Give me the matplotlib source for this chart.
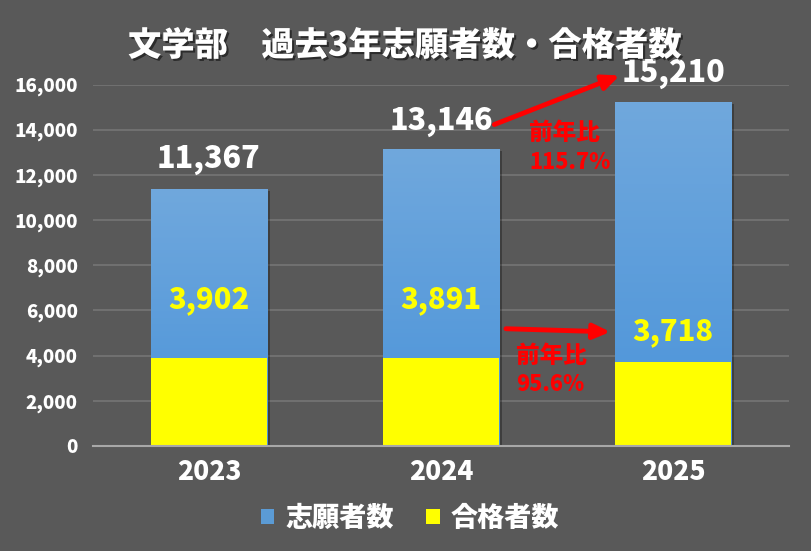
import numpy as np
import matplotlib
matplotlib.use('Agg')
import matplotlib.pyplot as plt
import matplotlib.patheffects as pe
from matplotlib.patches import Rectangle
from matplotlib.colors import LinearSegmentedColormap

plt.rcParams['font.family'] = ['Noto Sans CJK JP', 'DejaVu Sans']

years = ['2023', '2024', '2025']
applicants = [11367, 13146, 15210]
passers = [3902, 3891, 3718]
yticks = [0, 2000, 4000, 6000, 8000, 10000, 12000, 14000, 16000]
ratio_app = '115.7%'
ratio_pass = '95.6%'

bg = '#595959'
blue_cmap = LinearSegmentedColormap.from_list('b', ['#4a93d9', '#70a8dd'])
yellow = '#ffff00'
heavy = 'black'

fig = plt.figure(figsize=(8.12, 5.51), dpi=100, facecolor=bg)
ax = fig.add_axes([0.1145, 0.1906, 0.8572, 0.656])
ax.set_facecolor(bg)

x = np.arange(len(years))
w = 0.5

grad = np.linspace(0, 1, 256).reshape(-1, 1)
for i in range(len(years)):
    # blue bar with vertical gradient + soft shadow
    sh = Rectangle((x[i] - w / 2, 0), w, applicants[i], facecolor='#4a93d9', edgecolor='none',
                   zorder=1.9, path_effects=[pe.SimplePatchShadow(offset=(2.5, -1.5), shadow_rgbFace='black', alpha=0.3),
                                             pe.Normal()])
    ax.add_patch(sh)
    r = Rectangle((x[i] - w / 2, 0), w, applicants[i], facecolor='none', edgecolor='none', zorder=2)
    ax.add_patch(r)
    im = ax.imshow(grad, extent=[x[i] - w / 2, x[i] + w / 2, 0, applicants[i]], origin='lower',
                   cmap=blue_cmap, aspect='auto', zorder=2)
    im.set_clip_path(r)
    ax.bar(x[i], passers[i], width=w, color=yellow, zorder=3)

ax.set_xlim(-0.5, 2.5)
ax.set_ylim(0, 16000)
ax.set_yticks(yticks)
ax.set_yticklabels([f'{v:,}' for v in yticks])
ax.set_xticks(x)
ax.set_xticklabels(years)
ax.yaxis.grid(True, color='#707070', linewidth=1.5, zorder=0)
ax.set_axisbelow(True)
for s in ['top', 'right', 'left']:
    ax.spines[s].set_visible(False)
ax.spines['bottom'].set_color('#a8a8a8')
ax.spines['bottom'].set_linewidth(1.5)
ax.spines['bottom'].set_zorder(4)
ax.tick_params(axis='both', length=0, colors='white')
for lab in ax.get_yticklabels():
    lab.set_fontsize(13.5)
    lab.set_fontweight(heavy)
for lab in ax.get_xticklabels():
    lab.set_fontsize(19)
    lab.set_fontweight(heavy)
ax.tick_params(axis='y', pad=11)
ax.tick_params(axis='x', pad=8)

# value labels (applicants above the bars, passers inside)
app_label_y = [12680, 14360, 16480]
for i in range(len(years)):
    ax.text(x[i], app_label_y[i], f'{applicants[i]:,}', ha='center', va='center',
            fontsize=22, fontweight=heavy, color='white', clip_on=False, zorder=6)

pass_label_y = [6470, 6470, 5050]
for i in range(len(years)):
    ax.text(x[i], pass_label_y[i], f'{passers[i]:,}', ha='center', va='center',
            fontsize=21, fontweight=heavy, color=yellow, zorder=6)

# arrows
arrow = dict(arrowstyle='-|>,head_length=1.0,head_width=0.45', color='red', lw=3.5,
             shrinkA=0, shrinkB=0)
ax.annotate('', xy=(1.77, 16400), xytext=(1.23, 14230), arrowprops=arrow,
            annotation_clip=False, zorder=7)
ax.annotate('', xy=(1.73, 5050), xytext=(1.28, 5190), arrowprops=arrow, zorder=7)

ax.text(1.53, 13870, '前年比', ha='center', va='center', fontsize=17, fontweight=heavy, color='red', zorder=7)
ax.text(1.556, 12540, ratio_app, ha='center', va='center', fontsize=15.5, fontweight=heavy, color='red', zorder=7)
ax.text(1.474, 3990, '前年比', ha='center', va='center', fontsize=17, fontweight=heavy, color='red', zorder=7)
ax.text(1.47, 2700, ratio_pass, ha='center', va='center', fontsize=15.5, fontweight=heavy, color='red', zorder=7)

# title
fig.text(0.499, 0.918, '文学部\u3000過去3年志願者数・合格者数', ha='center', va='center', fontsize=24,
         fontweight=heavy, color='white',
         path_effects=[pe.withSimplePatchShadow(offset=(1.5, -1.5), shadow_rgbFace='black', alpha=0.5)])

# legend
h1 = Rectangle((0, 0), 1, 1, facecolor='#5b9bd5')
h2 = Rectangle((0, 0), 1, 1, facecolor=yellow)
leg = fig.legend([h1, h2], ['志願者数', '合格者数'], loc='center', bbox_to_anchor=(0.505, 0.06),
                 ncol=2, frameon=False, handlelength=0.5, handleheight=0.5, handletextpad=0.4,
                 columnspacing=1.2, prop={'size': 19.5, 'weight': heavy})
for t in leg.get_texts():
    t.set_color('white')

fig.savefig('out.png', dpi=100, facecolor=bg)
